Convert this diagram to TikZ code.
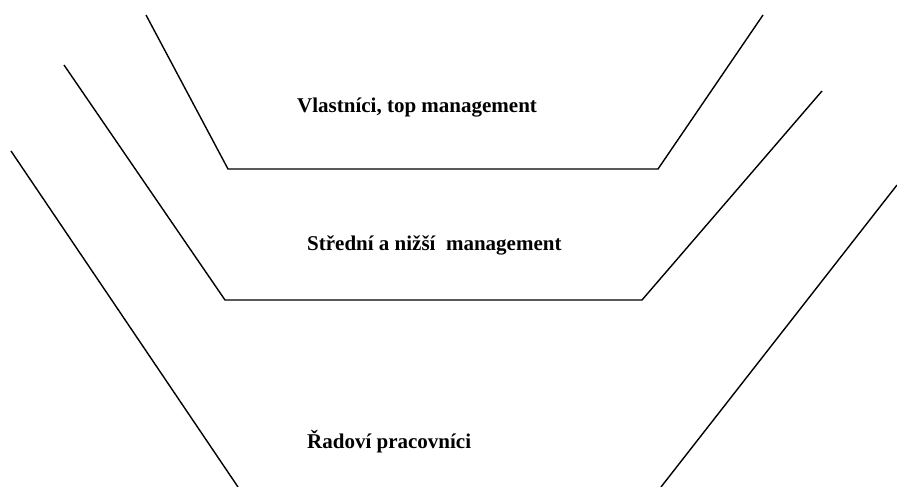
\documentclass[tikz,border=0pt]{standalone}
\usepackage{fontspec}
\setmainfont{Liberation Serif}
\usetikzlibrary{positioning}
\tikzset{
  level/.style={line width=1.4pt,line join=miter},
  label/.style={inner sep=0pt,anchor=base west,font=\fontsize{21}{24}\selectfont\bfseries}
}
\begin{document}
\begin{tikzpicture}[x=1pt,y=-1pt]
		\useasboundingbox (0,0) rectangle (897,487);
		% top level
		\coordinate (t1) at (146,15);
		\coordinate (t2) at (228,169);
		\coordinate (t3) at (658,169);
		\coordinate (t4) at (763,15);
		% middle level
		\coordinate (m1) at (64,65);
		\coordinate (m2) at (225,300);
		\coordinate (m3) at (642,300);
		\coordinate (m4) at (822,91);
		% bottom level
		\coordinate (b1) at (11,151);
		\coordinate (b2) at (238,487);
		\coordinate (b3) at (661,487);
		\coordinate (b4) at (897,185);
		\draw[level] (t1) -- (t2) -- (t3) -- (t4);
		\draw[level] (m1) -- (m2) -- (m3) -- (m4);
		\draw[level] (b1) -- (b2);
		\draw[level] (b3) -- (b4);
		\node (top) [label] at (297,112) {Vlastníci, top management};
		\node (mid) [label] at (307,250) {Střední a nižší\ \ management};
		\node (low) [label] at (307,448) {Řadoví pracovníci};
\end{tikzpicture}
\end{document}
